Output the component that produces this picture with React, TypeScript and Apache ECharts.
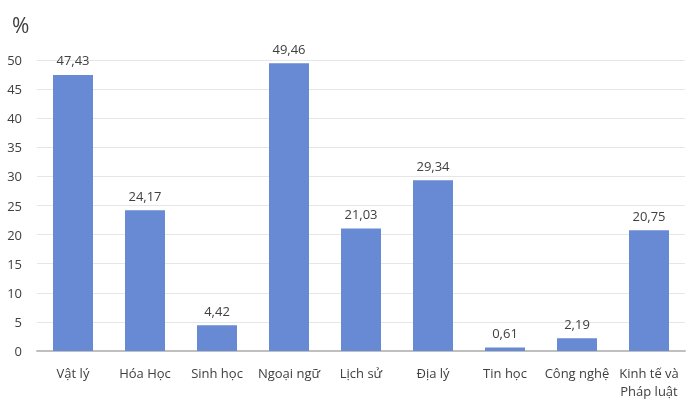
import React, { useEffect, useRef } from "react";
import * as echarts from "echarts";

const categories = ["Vật lý", "Hóa Học", "Sinh học", "Ngoại ngữ", "Lịch sử", "Địa lý", "Tin học", "Công nghệ", "Kinh tế và\nPháp luật"];
const values = [47.43, 24.17, 4.42, 49.46, 21.03, 29.34, 0.61, 2.19, 20.75];
const yTicks = { min: 0, max: 50, interval: 5 };

export default function App() {
  const ref = useRef<HTMLDivElement>(null);
  useEffect(() => {
    const chart = echarts.init(ref.current!, null, { renderer: "svg" });
    const font = "'Open Sans', 'Noto Sans', sans-serif";
    chart.setOption({
      animation: false,
      textStyle: { fontFamily: font },
      grid: { left: 37, right: 15, top: 60, bottom: 50, containLabel: false },
      graphic: [
        { type: "text", left: 12, top: 14, style: { text: "%", fontSize: 21, fill: "#404040", fontFamily: font } },
      ],
      xAxis: {
        type: "category",
        data: categories,
        axisLine: { lineStyle: { color: "#bfbfbf", width: 2 } },
        axisTick: { show: false },
        axisLabel: { color: "#404040", fontSize: 13, margin: 13, lineHeight: 18, interval: 0, fontFamily: font },
      },
      yAxis: {
        type: "value",
        min: yTicks.min,
        max: yTicks.max,
        interval: yTicks.interval,
        axisLine: { show: false },
        axisTick: { show: false },
        splitLine: { lineStyle: { color: "#e6e6e6", width: 1 } },
        axisLabel: { color: "#404040", fontSize: 13, margin: 15, fontFamily: font },
      },
      series: [
        {
          type: "bar",
          data: values,
          barWidth: 40,
          itemStyle: { color: "#6889d3" },
          label: {
            show: true,
            position: "top",
            distance: 8,
            color: "#404040",
            fontSize: 13,
            fontFamily: font,
            formatter: (p: any) => String(p.value.toFixed(2)).replace(".", ","),
          },
        },
      ],
    });
    return () => chart.dispose();
  }, []);
  return <div ref={ref} style={{ position: "fixed", left: 0, top: 0, width: 700, height: 401 }} />;
}
